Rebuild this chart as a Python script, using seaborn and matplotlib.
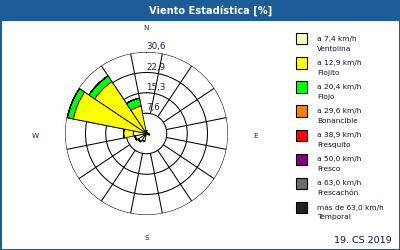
import numpy as np
import matplotlib
matplotlib.use("Agg")
import matplotlib.pyplot as plt
from matplotlib.patches import Rectangle
import seaborn as sns

# ---- data ----
directions = ['N', 'NNE', 'NE', 'ENE', 'E', 'ESE', 'SE', 'SSE',
              'S', 'SSW', 'SW', 'WSW', 'W', 'WNW', 'NW', 'NNW']
ventolina   = [0.3, 0.2, 0.2, 0.2, 0.5, 0.4, 0.2, 0.3, 0.3, 3.0, 3.6, 4.2, 5.0, 0.8, 0.6, 0.5]
flojito     = [0.8, 0.2, 0.0, 0.0, 0.3, 0.2, 0.0, 0.0, 0.0, 0.0, 0.2, 0.3, 3.6, 27.2, 22.8, 10.0]
flojo       = [0.0, 0.0, 0.0, 0.0, 0.0, 0.5, 0.0, 0.0, 0.0, 0.0, 0.0, 0.0, 0.0, 2.3, 2.6, 3.0]
bonancible  = [0.0] * 16
fresquito   = [0.0] * 16
fresco      = [0.0] * 16
frescachon  = [0.0] * 16
temporal    = [0.0] * 16

series = [ventolina, flojito, flojo, bonancible, fresquito, fresco, frescachon, temporal]
speed_labels = ['a 7,4 km/h', 'a 12,9 km/h', 'a 20,4 km/h', 'a 29,6 km/h',
                'a 38,9 km/h', 'a 50,0 km/h', 'a 63,0 km/h', 'más de 63,0 km/h']
beaufort_names = ['Ventolina', 'Flojito', 'Flojo', 'Bonancible',
                  'Fresquito', 'Fresco', 'Frescachón', 'Temporal']
colors = ['#ffffc0', '#ffff00', '#00ff00', '#ff8000',
          '#ff0000', '#800080', '#6e6e6e', '#222222']
ring_values = [7.6, 15.3, 22.9, 30.6]
ring_labels = ['7,6', '15,3', '22,9', '30,6']
compass = ['N', 'E', 'S', 'W']
title = 'Viento Estadística [%]'
footer = '19. CS 2019'

sns.set_style('white')
plt.rcParams['font.family'] = ['DejaVu Sans']

W, H = 400, 250
fig = plt.figure(figsize=(4, 2.5), dpi=100)
fig.patch.set_facecolor('white')

def fx(x):
    return x / W

def fy(y):
    return 1 - y / H

blue = '#1b5c99'
# title bar and border
fig.add_artist(Rectangle((0, fy(21)), 1, 21 / H, transform=fig.transFigure,
                         facecolor=blue, edgecolor='none', zorder=0))
fig.add_artist(Rectangle((0, 0), 1, 1, transform=fig.transFigure,
                         facecolor='none', edgecolor=blue, lw=2.2, zorder=5))
fig.text(fx(210.5), fy(11), title, color='white', fontsize=7.1, fontweight='bold',
         ha='center', va='center')

# polar axes
cx, cy, R = 146.5, 133.5, 81.5
ax = fig.add_axes([fx(cx - R), fy(cy + R), 2 * R / W, 2 * R / H], projection='polar')
ax.set_theta_zero_location('N')
ax.set_theta_direction(-1)
ax.set_facecolor('none')
ax.set_ylim(0, ring_values[-1])
ax.spines['polar'].set_visible(False)
ax.set_xticks([])
ax.set_rgrids(ring_values, labels=[''] * len(ring_values))
ax.yaxis.grid(True, color='black', lw=0.75)
ax.xaxis.grid(False)

theta = np.deg2rad(np.arange(16) * 22.5)
width = np.deg2rad(22.5)
# spokes from inner ring to outer ring
ax.vlines(theta + width / 2, ring_values[0], ring_values[-1], color='black', lw=0.75, zorder=1)

bottom = np.zeros(16)
for vals, col in zip(series, colors):
    v = np.array(vals)
    ax.bar(theta, v, width=width, bottom=bottom, color=col, edgecolor='black',
           lw=0.6, zorder=3, align='center')
    bottom = bottom + v

# ring labels
for rv, rl in zip(ring_values, ring_labels):
    ry = cy - rv / ring_values[-1] * R
    fig.text(fx(cx - 0.5), fy(ry - 5.5), rl, fontsize=6.3, color='#1a1a5a',
             ha='left', va='center')

# compass letters
comp_pos = {'N': (146.5, 28), 'E': (256, 136), 'S': (147, 238), 'W': (35, 136)}
for c in compass:
    px, py = comp_pos[c]
    fig.text(fx(px), fy(py), c, fontsize=5.2, color='#202040', ha='center', va='center')

# legend
for i, (sl, bn, col) in enumerate(zip(speed_labels, beaufort_names, colors)):
    top = 33.5 + i * 24
    fig.add_artist(Rectangle((fx(296), fy(top + 11)), 11 / W, 11 / H,
                             transform=fig.transFigure, facecolor=col,
                             edgecolor='black', lw=0.8))
    fig.text(fx(317), fy(top + 6), sl, fontsize=5.3, color='#101030', ha='left', va='center')
    fig.text(fx(317), fy(top + 15.5), bn, fontsize=5.3, color='#101030', ha='left', va='center')

fig.text(fx(392), fy(240.5), footer, fontsize=6.8, color='#101030', ha='right', va='center')

fig.savefig('out.png', dpi=100)
